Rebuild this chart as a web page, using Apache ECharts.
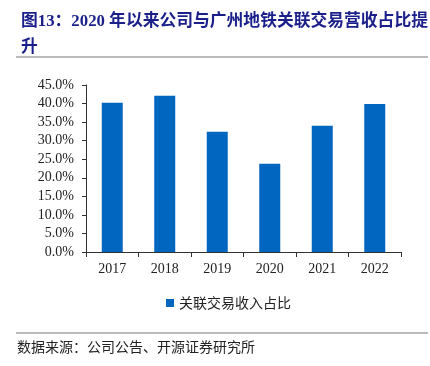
<!DOCTYPE html>
<html>
<head>
<meta charset="utf-8">
<script src="https://cdn.jsdelivr.net/npm/echarts@6/dist/echarts.min.js"></script>
<style>
  html, body { margin: 0; padding: 0; background: #fff; }
  #chart { width: 430px; height: 366px; }
</style>
</head>
<body>
<div id="chart"></div>
<script>
// 年份
const years = ['2017', '2018', '2019', '2020', '2021', '2022'];
// 关联交易收入占比（%）
const ratio = [40.2, 42.1, 32.4, 23.8, 34.0, 39.9];
const seriesName = '关联交易收入占比';

const chart = echarts.init(document.getElementById('chart'));
const option = {
    animation: false,
    title: {
        text: '图13：2020 年以来公司与广州地铁关联交易营收占比提\n升',
        left: 16,
        top: 4,
        textStyle: {
            fontFamily: '"Liberation Serif", "Noto Sans CJK SC"',
            fontSize: 16.8,
            fontWeight: 'bold',
            color: '#1a1f8a',
            lineHeight: 26
        }
    },
    graphic: [
        { type: 'line', shape: { x1: 16, y1: 57, x2: 428, y2: 57 }, style: { stroke: '#777', lineWidth: 1 } },
        { type: 'line', shape: { x1: 16, y1: 333, x2: 428, y2: 333 }, style: { stroke: '#777', lineWidth: 1 } },
        {
            type: 'text', left: 17, top: 340,
            style: { text: '数据来源：公司公告、开源证券研究所', font: '14px "Noto Sans CJK SC"', fill: '#222' }
        }
    ],
    legend: {
        data: [seriesName],
        top: 291,
        left: 161,
        itemWidth: 8,
        itemHeight: 8,
        icon: 'rect',
        itemGap: 4,
        textStyle: { fontFamily: '"Noto Sans CJK SC"', fontSize: 14, color: '#222' }
    },
    grid: { left: 86, right: 29, top: 85, bottom: 114 },
    xAxis: {
        type: 'category',
        data: years,
        axisLine: { lineStyle: { color: '#333' } },
        axisTick: { show: true, alignWithLabel: false, lineStyle: { color: '#333' } },
        axisLabel: { fontFamily: '"Liberation Serif"', fontSize: 14, color: '#222', margin: 10 }
    },
    yAxis: {
        type: 'value',
        min: 0,
        max: 45,
        interval: 5,
        axisLine: { show: true, lineStyle: { color: '#333' } },
        axisTick: { show: true, inside: false, length: 4, lineStyle: { color: '#333' } },
        splitLine: { show: false },
        axisLabel: {
            fontFamily: '"Liberation Serif"',
            fontSize: 14,
            color: '#222',
            margin: 12,
            formatter: v => v.toFixed(1) + '%'
        }
    },
    series: [{
        name: seriesName,
        type: 'bar',
        data: ratio,
        barWidth: '40%',
        itemStyle: { color: '#0066bf' }
    }]
};
chart.setOption(option);
</script>
</body>
</html>
